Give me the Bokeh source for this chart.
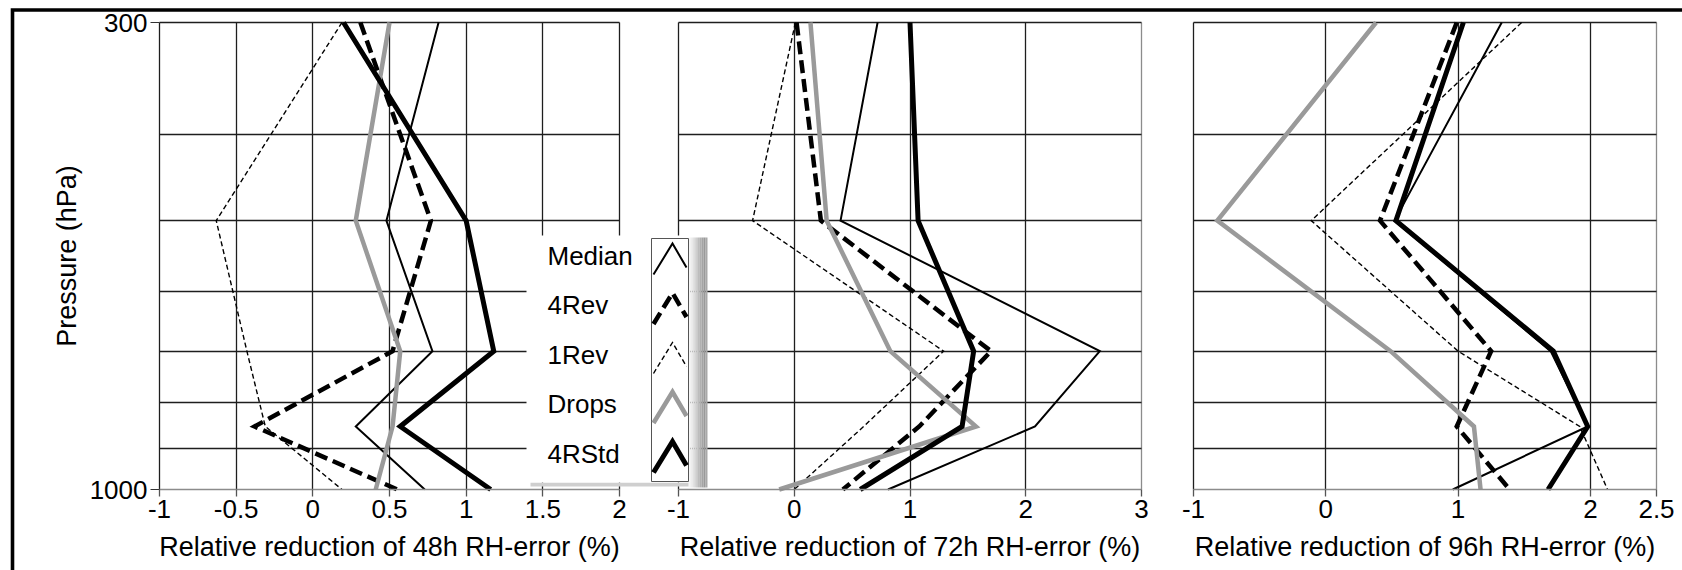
from math import pi, log, exp

from bokeh.core.properties import value
from bokeh.embed import file_html
from bokeh.models import (ColumnDataSource, FixedTicker, Grid, Label,
                          LinearAxis, LinearScale, Range1d)
from bokeh.plotting import figure
from bokeh.resources import INLINE

# ---------------------------------------------------------------- data
PRESSURE = [300, 500, 700, 850, 1000]          # hPa
SERIES = ["Median", "4Rev", "1Rev", "Drops", "4RStd"]

# relative reduction of RH error (%) at each pressure level
MEDIAN_48 = [0.82, 0.48, 0.78, 0.28, 0.73]
REV4_48 = [0.31, 0.77, 0.52, -0.38, 0.55]
REV1_48 = [0.19, -0.63, -0.43, -0.31, 0.19]
DROPS_48 = [0.50, 0.28, 0.57, 0.52, 0.41]
RSTD4_48 = [0.20, 1.00, 1.18, 0.57, 1.16]

MEDIAN_72 = [0.72, 0.40, 2.64, 2.08, 0.81]
REV4_72 = [0.02, 0.23, 1.70, 1.08, 0.42]
REV1_72 = [0.01, -0.36, 1.29, 0.60, 0.00]
DROPS_72 = [0.14, 0.28, 0.83, 1.57, -0.13]
RSTD4_72 = [1.00, 1.07, 1.55, 1.45, 0.57]

MEDIAN_96 = [1.33, 0.52, 1.70, 1.98, 0.96]
REV4_96 = [0.99, 0.41, 1.25, 0.99, 1.39]
REV1_96 = [1.48, -0.11, 1.00, 1.92, 2.13]
DROPS_96 = [0.38, -0.82, 0.49, 1.12, 1.17]
RSTD4_96 = [1.04, 0.53, 1.72, 1.98, 1.68]

X_TICKS_48 = [-1, -0.5, 0, 0.5, 1, 1.5, 2]
X_LABELS_48 = ["-1", "-0.5", "0", "0.5", "1", "1.5", "2"]
X_TICKS_72 = [-1, 0, 1, 2, 3]
X_LABELS_72 = ["-1", "0", "1", "2", "3"]
X_TICKS_96 = [-1, 0, 1, 2, 2.5]
X_LABELS_96 = ["-1", "0", "1", "2", "2.5"]

Y_TICKS = [300, 1000]
Y_LABELS = ["300", "1000"]
Y_GRID = [300, 400, 500, 600, 700, 800, 900]

TITLES = ["Relative reduction of 48h RH-error (%)",
          "Relative reduction of 72h RH-error (%)",
          "Relative reduction of 96h RH-error (%)"]
Y_TITLE = "Pressure (hPa)"

# ---------------------------------------------------------------- layout
W, H = 1682, 570
PANEL_PX = [(159, 619), (678, 1141), (1193, 1656)]   # canvas x of each panel
TOP_PX, BOTTOM_PX = 22, 489                         # canvas y of 300 / 1000 hPa
FONT = "Liberation Sans"
FS = "26px"
TITLE_FS = "27px"

STYLE = {
    "Median": dict(line_color="black", line_width=2),
    "4Rev": dict(line_color="black", line_width=4.5, line_dash="13 6"),
    "1Rev": dict(line_color="black", line_width=1.4, line_dash="5 3"),
    "Drops": dict(line_color="#9a9a9a", line_width=4.5),
    "4RStd": dict(line_color="black", line_width=5),
}
GRID_COLOR = "#1e1e1e"
EDGE_COLOR = "#8c8c8c"


def panel_range(lo, hi, px0, px1):
    """Range spanning the whole canvas so that [lo, hi] lands on [px0, px1]."""
    unit = (px1 - px0) / (hi - lo)
    return Range1d(lo - px0 / unit, hi + (W - px1) / unit)


k = log(1000 / 300) / (BOTTOM_PX - TOP_PX)
y_range = Range1d(1000 * exp((H - BOTTOM_PX) * k), 300 * exp(-TOP_PX * k))

panels = [
    dict(rn="default", lo=-1, hi=2, ticks=X_TICKS_48, labels=X_LABELS_48,
         lines=[MEDIAN_48, REV4_48, REV1_48, DROPS_48, RSTD4_48],
         title=TITLES[0], edge=GRID_COLOR),
    dict(rn="p72", lo=-1, hi=3, ticks=X_TICKS_72, labels=X_LABELS_72,
         lines=[MEDIAN_72, REV4_72, REV1_72, DROPS_72, RSTD4_72],
         title=TITLES[1], edge=EDGE_COLOR),
    dict(rn="p96", lo=-1, hi=2.5, ticks=X_TICKS_96, labels=X_LABELS_96,
         lines=[MEDIAN_96, REV4_96, REV1_96, DROPS_96, RSTD4_96],
         title=TITLES[2], edge=EDGE_COLOR),
]
ranges = [panel_range(pn["lo"], pn["hi"], *px) for pn, px in zip(panels, PANEL_PX)]

p = figure(width=W, height=H, x_range=ranges[0], y_range=y_range,
           y_axis_type="log", x_axis_location=None, y_axis_location=None,
           min_border=0, toolbar_location=None, tools="",
           output_backend="svg")
# drop the automatic grids; each panel gets its own below
p.center = [r for r in p.center if not isinstance(r, Grid)]
p.outline_line_color = None
p.background_fill_color = "white"
p.border_fill_color = "white"
p.extra_x_ranges = {"p72": ranges[1], "p96": ranges[2], "px": Range1d(0, W)}
p.extra_y_ranges = {"px": Range1d(H, 0)}
p.extra_y_scales = {"px": LinearScale()}

PX = dict(x_range_name="px", y_range_name="px")

# ---------------------------------------------------------------- panels
for pn in panels:
    rn, lo, hi = pn["rn"], pn["lo"], pn["hi"]

    p.add_layout(Grid(dimension=0, ticker=FixedTicker(ticks=pn["ticks"][:-1]),
                      x_range_name=rn, bounds=(lo, hi), cross_bounds=(300, 1000),
                      grid_line_color=GRID_COLOR, grid_line_width=1.3))
    p.add_layout(Grid(dimension=0, ticker=FixedTicker(ticks=[hi]),
                      x_range_name=rn, cross_bounds=(300, 1000),
                      grid_line_color=pn["edge"], grid_line_width=1.3))
    p.add_layout(Grid(dimension=1, ticker=FixedTicker(ticks=Y_GRID),
                      x_range_name=rn, cross_bounds=(lo, hi),
                      grid_line_color=GRID_COLOR, grid_line_width=1.3))

    ax = LinearAxis(x_range_name=rn, fixed_location=1000, bounds=(lo, hi),
                    ticker=FixedTicker(ticks=pn["ticks"], minor_ticks=[]),
                    major_label_overrides=dict(zip(pn["ticks"], pn["labels"])))
    ax.axis_line_color = EDGE_COLOR
    ax.axis_line_width = 1.5
    ax.major_tick_out = 7
    ax.major_tick_in = 0
    ax.minor_tick_out = 0
    ax.minor_tick_in = 0
    ax.major_tick_line_color = "#555555"
    ax.major_tick_line_width = 1.3
    ax.major_label_standoff = 3
    ax.major_label_text_font = FONT
    ax.major_label_text_font_size = FS
    ax.major_label_text_color = "black"
    p.add_layout(ax, "below")

    for name, vals in zip(SERIES, pn["lines"]):
        src = ColumnDataSource(dict(x=vals, p=PRESSURE))
        p.line("x", "p", source=src, x_range_name=rn, line_join="miter",
               **STYLE[name])

    p.add_layout(Label(x=(lo + hi) / 2, y=546, x_range_name=rn, y_range_name="px",
                       text=pn["title"], text_font=FONT, text_font_size=TITLE_FS,
                       text_align="center", text_baseline="middle",
                       text_color="black"))

# pressure axis on the left edge of the first panel
yax = LinearAxis(fixed_location=-1,
                 ticker=FixedTicker(ticks=Y_TICKS, minor_ticks=[]),
                 major_label_overrides=dict(zip(Y_TICKS, Y_LABELS)))
yax.axis_line_color = None
yax.major_tick_out = 9
yax.major_tick_in = 0
yax.minor_tick_out = 0
yax.minor_tick_in = 0
yax.major_tick_line_color = "#333333"
yax.major_label_standoff = 3
yax.major_label_text_font = FONT
yax.major_label_text_font_size = FS
yax.major_label_text_color = "black"
p.add_layout(yax, "left")

p.add_layout(Label(x=66, y=(TOP_PX + BOTTOM_PX) / 2, text=Y_TITLE, angle=pi / 2,
                   text_font=FONT, text_font_size=TITLE_FS, text_align="center",
                   text_baseline="middle", text_color="black", **PX))

# ---------------------------------------------------------------- legend
LEG_L, LEG_R, LEG_T, LEG_B = 526, 688, 235, 482
SW_L, SW_R, SW_T, SW_B = 651, 688, 238, 481
ROW0, ROW_STEP = 255, 49.5

shade = ["#f6f6f6", "#ededed", "#e2e2e2", "#d6d6d6", "#cacaca",
         "#bdbdbd", "#b0b0b0", "#a4a4a4", "#999999", "#a8a8a8"]
step = (707 - LEG_R) / len(shade)
p.quad(left=[LEG_R + i * step for i in range(len(shade))],
       right=[LEG_R + (i + 1) * step for i in range(len(shade))],
       top=237, bottom=487, fill_color=shade, line_color=None, **PX)
p.quad(left=530, right=LEG_R, top=LEG_B, bottom=486, fill_color="#cfcfcf",
       line_color=None, **PX)
p.quad(left=LEG_L, right=LEG_R, top=LEG_T, bottom=LEG_B, fill_color="white",
       line_color=None, **PX)
p.quad(left=SW_L, right=SW_R, top=SW_T, bottom=SW_B, fill_color="white",
       line_color="#555555", line_width=1, **PX)

rows = [ROW0 + i * ROW_STEP for i in range(len(SERIES))]
for name, cy in zip(SERIES, rows):
    p.line(x=[SW_L + 2, SW_L + 21, SW_R - 2], y=[cy + 19, cy - 12, cy + 12],
           line_join="miter", **STYLE[name], **PX)
p.text(x=[547] * len(SERIES), y=rows, text=SERIES, text_font=value(FONT),
       text_font_size=FS, text_baseline="middle", text_color="black", **PX)

# outer frame along the top and left edges
p.line(x=[12, 12, W], y=[H, 9.5, 9.5], line_color="black", line_width=3.6,
       line_join="miter", **PX)

open("out.html", "w").write(file_html(p, INLINE))
